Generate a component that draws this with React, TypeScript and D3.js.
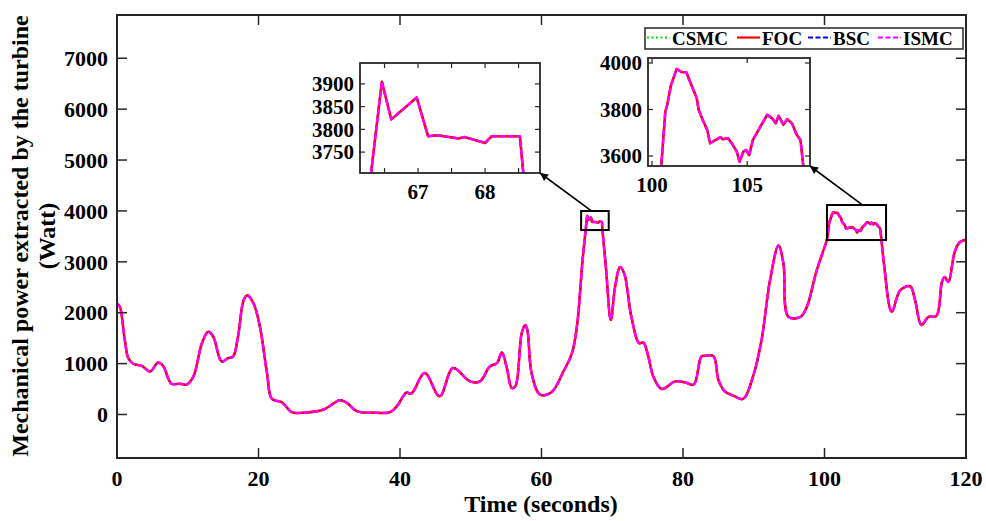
import * as d3 from "d3";

// time (s) and mechanical power (W); the four controllers give the same trace
const time = [
  0, 0.4, 1.1, 1.6, 2.3, 3.5, 4.7, 5.8, 6.5, 7.7, 8.9, 9.85, 10.8, 12.0, 12.9, 13.6, 14.8, 15.7,
  16.4, 17.1, 17.9, 18.4, 19.3, 20.2, 21.2, 21.9, 23.3, 24.7, 26.1, 29.2, 31.5, 32.5, 33.9, 36.7,
  38.6, 39.6, 40.9, 41.6, 43.5, 45.6, 47.5, 49.9, 51.3, 52.7, 53.7, 54.4, 55.1, 55.8, 56.3, 57.2,
  57.7, 58.0, 58.6, 59.8, 61.4, 63.1, 64.3, 65.0, 65.8, 66.3, 66.46, 66.6, 66.98, 67.15, 67.3,
  67.6, 67.7, 68.0, 68.1, 68.52, 68.57, 68.6, 69.1, 69.8, 70.4, 71.1, 71.7, 72.7, 73.8, 74.4,
  75.1, 75.8, 77.0, 78.9, 80.3, 81.5, 82.6, 83.1, 84.3, 85.0, 85.9, 87.1, 88.5, 89.9, 91.1, 92.3,
  93.5, 94.2, 94.9, 96.6, 97.5, 98.9, 100.3, 100.47, 100.7, 100.8, 101.0, 101.3, 101.55, 101.8,
  102.1, 102.35, 102.45, 102.7, 102.9, 103.05, 103.6, 103.7, 104.0, 104.25, 104.45, 104.6, 104.8,
  104.95, 105.1, 105.3, 105.7, 106.05, 106.3, 106.5, 106.65, 106.9, 107.1, 107.35, 107.6, 107.8,
  107.95, 108.4, 109.5, 110.7, 112.1, 112.8, 113.7, 114.7, 115.8, 116.6, 117.0, 117.5, 118.4,
  119.1, 119.9, 120,
];
const power = [
  2180, 2115, 1465, 1107, 996, 957, 846, 1021, 957, 605, 605, 586, 748, 1400, 1627, 1530, 1041, 1107,
  1139, 1530, 2246, 2344, 2180, 1725, 814, 306, 240, 45, 33, 98, 280, 228, 65, 33,
  45, 170, 430, 410, 814, 358, 912, 651, 651, 944, 1009, 1217, 912, 521, 553, 1595,
  1758, 1660, 814, 390, 436, 846, 1205, 1725, 3027, 3705, 3905, 3822, 3870, 3785, 3787,
  3780, 3783, 3770, 3785, 3785, 3705, 3650, 2897, 1855, 2506, 2897, 2767, 1920, 1400, 1412,
  1139, 748, 502, 651, 631, 586, 1139, 1152, 1145, 684, 455, 371, 306, 748, 1465, 2637,
  3320, 2963, 1920, 1920, 2115, 2832, 3418, 3540, 3791, 3820, 3906, 3974, 3961, 3960,
  3899, 3849, 3799, 3748, 3712, 3655, 3681, 3672, 3676, 3647, 3619, 3576, 3619,
  3626, 3604, 3669, 3727, 3777, 3763, 3741, 3773, 3734, 3758, 3741, 3691, 3669,
  3554, 2963, 2018, 2441, 2520, 2246, 1758, 1920, 1934, 2604, 2701, 2604, 3190,
  3385, 3432, 3445,
];

const controllers = ["CSMC", "FOC", "BSC", "ISMC"];
const drawOrder = ["CSMC", "BSC", "FOC", "ISMC"];

const xTicks = [0, 20, 40, 60, 80, 100, 120];
const yTicks = [0, 1000, 2000, 3000, 4000, 5000, 6000, 7000];

// zoom windows
const zoom1X = [66.134, 68.82];
const zoom1Y = [3704, 3946];
const zoom1XTicks = [66.5, 67, 67.5, 68, 68.5];
const zoom1XLabels = [67, 68];
const zoom1YTicks = [3750, 3800, 3850, 3900];
const zoom2X = [99.79, 108.3];
const zoom2Y = [3557, 4021.5];
const zoom2XTicks = [100, 105];
const zoom2YTicks = [3600, 3800, 4000];
// marked boxes on the main plot [t0, t1, p0, p1] and arrow start time
const box1 = [65.6, 69.5, 3624, 3998];
const box2 = [100.35, 108.7, 3428, 4116];
const arrowFrom = [67.1, 105.4];

const styles: Record<string, { color: string; dash: string; width: number }> = {
  CSMC: { color: "#00dd00", dash: "1.5 3", width: 2 },
  FOC: { color: "#ff0000", dash: "", width: 2.5 },
  BSC: { color: "#0000ff", dash: "6 3", width: 2 },
  ISMC: { color: "#ff00ff", dash: "6 2.5", width: 2.5 },
};

const FONT = "'Liberation Serif', 'Times New Roman', serif";
const INK = "#262626";

const pts = time.map((t, i) => [t, power[i]] as [number, number]);

function Inset({ id, xd, yd, xr, yr, xt, xl, yt }: any) {
  const sx = d3.scaleLinear().domain(xd).range(xr);
  const sy = d3.scaleLinear().domain(yd).range(yr);
  const line = d3.line<[number, number]>().x((d) => sx(d[0])).y((d) => sy(d[1]));
  const [x0, x1] = xr;
  const [y1, y0] = yr;
  return (
    <g>
      <clipPath id={id}>
        <rect x={x0} y={y0} width={x1 - x0} height={y1 - y0} />
      </clipPath>
      <rect x={x0} y={y0} width={x1 - x0} height={y1 - y0} fill="#fff" />
      <g clipPath={`url(#${id})`}>
        {drawOrder.map((c) => (
          <path key={c} d={line(pts) || ""} fill="none" stroke={styles[c].color}
            strokeWidth={styles[c].width} strokeDasharray={styles[c].dash} strokeLinejoin="round" />
        ))}
      </g>
      {xt.map((t: number) => (
        <g key={"x" + t}>
          <line x1={sx(t)} x2={sx(t)} y1={y1} y2={y1 - 5} stroke={INK} strokeWidth={1.2} />
          <line x1={sx(t)} x2={sx(t)} y1={y0} y2={y0 + 5} stroke={INK} strokeWidth={1.2} />
        </g>
      ))}
      {xl.map((t: number) => (
        <text key={"xl" + t} x={sx(t)} y={y1 + 26} textAnchor="middle" fontSize={21}
          fontWeight="bold" fontFamily={FONT}>{t}</text>
      ))}
      {yt.map((v: number) => (
        <g key={"y" + v}>
          <line x1={x0} x2={x0 + 5} y1={sy(v)} y2={sy(v)} stroke={INK} strokeWidth={1.2} />
          <line x1={x1} x2={x1 - 5} y1={sy(v)} y2={sy(v)} stroke={INK} strokeWidth={1.2} />
          <text x={x0 - 6} y={sy(v)} dy="0.35em" textAnchor="end" fontSize={21}
            fontWeight="bold" fontFamily={FONT}>{v}</text>
        </g>
      ))}
      <rect x={x0} y={y0} width={x1 - x0} height={y1 - y0} fill="none" stroke={INK} strokeWidth={1.8} />
    </g>
  );
}

export default function App() {
  const W = 986;
  const H = 521;
  const x = d3.scaleLinear().domain([0, 120]).range([117, 966]);
  const y = d3.scaleLinear().domain([-855, 7850]).range([458, 15]);
  const [L, R] = x.range();
  const [B, T] = y.range();
  const line = d3
    .line<[number, number]>()
    .x((d) => x(d[0]))
    .y((d) => y(d[1]))
    .curve(d3.curveCatmullRom.alpha(0.5));
  const mainPath = line(pts) || "";

  const in1 = { xr: [360, 540], yr: [173, 63] };
  const in2 = { xr: [648, 810], yr: [166, 58] };

  // legend layout: [line start, text start]
  const legendPos = [[647, 672], [737, 762], [808, 833], [878, 903]];

  return (
    <svg width={W} height={H} style={{ position: "absolute", left: 0, top: 0, background: "#fff" }}>
      <defs>
        <marker id="ah" viewBox="0 0 10 10" refX={10} refY={5} markerWidth={10} markerHeight={8}
          markerUnits="userSpaceOnUse" orient="auto">
          <path d="M0,0 L10,5 L0,10 z" fill="#000" />
        </marker>
      </defs>
      <rect x={0} y={0} width={W} height={H} fill="#fff" />

      {drawOrder.map((c) => (
        <path key={c} d={mainPath} fill="none" stroke={styles[c].color}
          strokeWidth={styles[c].width} strokeDasharray={styles[c].dash} strokeLinejoin="round" />
      ))}

      {/* frame and ticks */}
      {xTicks.map((t) => (
        <g key={"xt" + t}>
          <line x1={x(t)} x2={x(t)} y1={B} y2={B - 10} stroke={INK} strokeWidth={1.5} />
          <line x1={x(t)} x2={x(t)} y1={T} y2={T + 10} stroke={INK} strokeWidth={1.5} />
          <text x={x(t)} y={486} textAnchor="middle" fontSize={22} fontWeight="bold" fontFamily={FONT}>{t}</text>
        </g>
      ))}
      {yTicks.map((v) => (
        <g key={"yt" + v}>
          <line x1={L} x2={L + 10} y1={y(v)} y2={y(v)} stroke={INK} strokeWidth={1.5} />
          <line x1={R} x2={R - 10} y1={y(v)} y2={y(v)} stroke={INK} strokeWidth={1.5} />
          <text x={108} y={y(v)} dy="0.35em" textAnchor="end" fontSize={22} fontWeight="bold" fontFamily={FONT}>{v}</text>
        </g>
      ))}
      <rect x={L} y={T} width={R - L} height={B - T} fill="none" stroke={INK} strokeWidth={2} />

      <text x={541} y={512} textAnchor="middle" fontSize={24} fontWeight="bold" fontFamily={FONT}>Time (seconds)</text>
      <text transform="translate(28,236) rotate(-90)" textAnchor="middle" fontSize={24} fontWeight="bold" fontFamily={FONT}>
        Mechanical power extracted by the turbine
      </text>
      <text transform="translate(55,236) rotate(-90)" textAnchor="middle" fontSize={24} fontWeight="bold" fontFamily={FONT}>
        (Watt)
      </text>

      {/* marked windows */}
      {[box1, box2].map((b, i) => (
        <rect key={"b" + i} x={x(b[0])} y={y(b[3])} width={x(b[1]) - x(b[0])} height={y(b[2]) - y(b[3])}
          fill="none" stroke="#000" strokeWidth={2} />
      ))}

      <Inset id="c1" xd={zoom1X} yd={zoom1Y} {...in1} xt={zoom1XTicks} xl={zoom1XLabels} yt={zoom1YTicks} />
      <Inset id="c2" xd={zoom2X} yd={zoom2Y} {...in2} xt={zoom2XTicks} xl={zoom2XTicks} yt={zoom2YTicks} />

      <line x1={x(arrowFrom[0])} y1={y(box1[3])} x2={in1.xr[1]} y2={in1.yr[0]} stroke="#000" strokeWidth={1.6} markerEnd="url(#ah)" />
      <line x1={x(arrowFrom[1])} y1={y(box2[3])} x2={in2.xr[1]} y2={in2.yr[0]} stroke="#000" strokeWidth={1.6} markerEnd="url(#ah)" />

      {/* legend */}
      <rect x={645} y={28} width={318} height={21} fill="#fff" stroke={INK} strokeWidth={1.5} />
      {controllers.map((c, i) => (
        <g key={c}>
          <line x1={legendPos[i][0]} x2={legendPos[i][0] + 23} y1={37.5} y2={37.5} stroke={styles[c].color}
            strokeWidth={2.2} strokeDasharray={c === "CSMC" ? "2 2.5" : c === "FOC" ? "" : "5 2.5"} />
          <text x={legendPos[i][1]} y={44.5} fontSize={19} fontWeight="bold" fontFamily={FONT}>{c}</text>
        </g>
      ))}
    </svg>
  );
}
